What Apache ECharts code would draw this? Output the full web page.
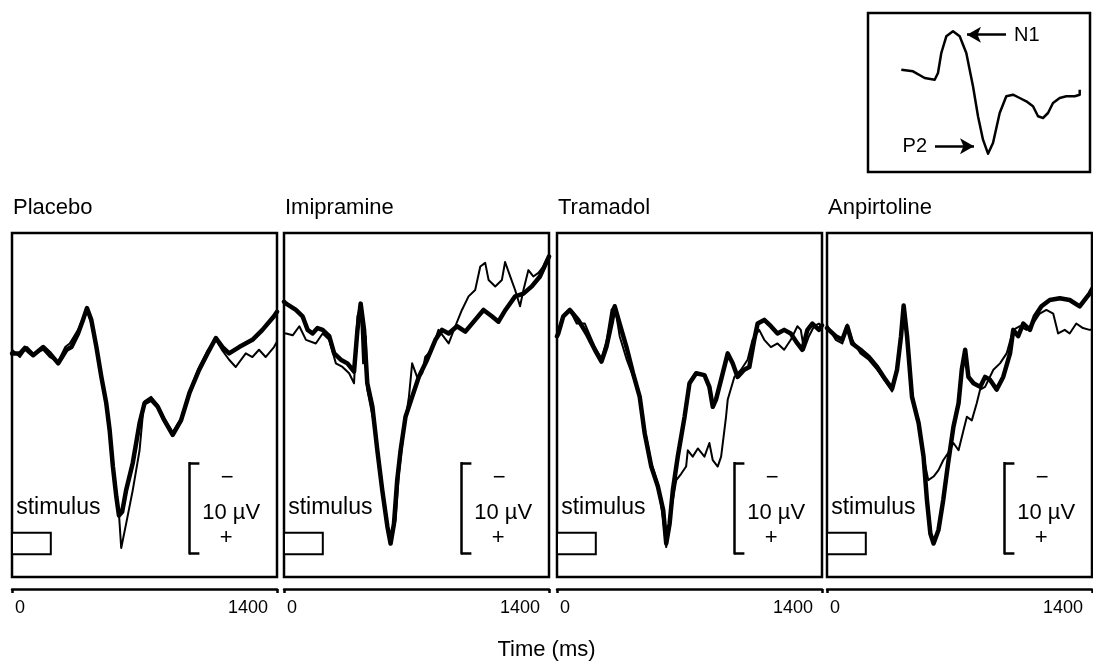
<!doctype html>
<html lang="en">
<head>
	<meta charset="UTF-8">
	<title>Auditory evoked potentials</title>
	<script src="https://cdn.jsdelivr.net/npm/echarts@6/dist/echarts.min.js"></script>
	<style>
		html, body { margin: 0; padding: 0; width: 100%; height: 100%; background: #fff; }
		#main { width: 1093px; height: 663px; }
	</style>
</head>
<body>
	<div id="main"></div>
	<script type="text/javascript">
		// time (ms), amplitude (µV, negative up)
		var placeboThick = [[0,-5.7],[7,-5.7],[42,-5.7],[68,-6.3],[112,-5.5],[165,-6.4],[200,-5.7],[244,-4.6],[288,-6.1],[314,-6.4],[349,-7.9],[375,-9.4],[396,-10.7],[419,-9.4],[446,-6.4],[472,-3.1],[498,-0.2],[516,2.8],[533,6.8],[551,10.1],[565,12.2],[582,11.8],[603,9.4],[638,6.4],[674,2.0],[700,-0.2],[735,-0.6],[770,0.2],[805,1.7],[849,3.3],[893,1.7],[937,-1.3],[989,-3.9],[1033,-5.7],[1077,-7.4],[1112,-6.4],[1147,-5.7],[1200,-6.4],[1270,-7.2],[1323,-8.3],[1384,-9.8],[1400,-10.3]];
		var placeboThin = [[0,-6.1],[7,-6.1],[42,-5.3],[79,-6.4],[112,-5.7],[165,-6.1],[200,-5.3],[244,-4.8],[281,-6.4],[305,-6.8],[349,-8.3],[375,-9.6],[396,-10.5],[419,-9.0],[446,-6.1],[472,-2.8],[498,0.2],[516,3.3],[533,7.2],[551,10.5],[565,12.0],[577,15.8],[603,13.1],[638,9.4],[674,5.0],[695,0.2],[700,-0.4],[735,-0.9],[770,0.0],[805,1.5],[849,3.0],[893,1.5],[937,-1.5],[989,-4.2],[1033,-6.0],[1077,-7.2],[1112,-6.0],[1147,-5.0],[1182,-4.2],[1235,-5.7],[1270,-5.3],[1305,-6.1],[1340,-5.3],[1384,-6.4],[1400,-7.0]];

		var imipramineThick = [[0,-11.4],[11,-11.2],[63,-10.5],[98,-9.8],[125,-8.3],[151,-7.9],[177,-8.5],[204,-8.3],[239,-7.6],[265,-5.7],[300,-5.0],[335,-4.6],[370,-3.7],[388,-8.3],[405,-11.2],[423,-8.3],[440,-2.4],[467,0.2],[493,5.0],[519,9.4],[546,13.4],[563,15.3],[581,13.1],[598,8.3],[616,5.0],[642,1.3],[677,-0.9],[712,-3.1],[756,-5.0],[800,-7.2],[835,-8.3],[870,-7.9],[914,-8.7],[958,-8.1],[1010,-9.4],[1054,-10.5],[1098,-9.8],[1133,-9.2],[1170,-10.5],[1221,-12.0],[1265,-12.3],[1309,-13.1],[1352,-14.2],[1400,-16.4]];
		var imipramineThin = [[0,-7.9],[11,-7.9],[46,-7.7],[81,-8.7],[116,-7.2],[168,-6.8],[204,-7.9],[239,-7.2],[274,-4.6],[309,-4.2],[344,-3.5],[370,-2.4],[388,-9.8],[405,-11.0],[418,-4.6],[432,-7.6],[440,-1.7],[475,2.0],[510,7.5],[546,13.1],[563,15.3],[590,12.7],[607,7.6],[633,2.8],[660,-0.9],[677,-4.6],[703,-3.1],[730,-3.5],[746,-5.3],[781,-6.1],[816,-8.3],[870,-6.8],[905,-8.7],[940,-10.5],[975,-12.0],[1010,-12.7],[1037,-15.3],[1063,-15.7],[1081,-13.8],[1116,-13.1],[1151,-13.8],[1168,-15.8],[1195,-14.2],[1221,-12.7],[1247,-10.9],[1265,-12.7],[1291,-14.9],[1317,-14.2],[1344,-14.6],[1370,-15.3],[1400,-16.6]];

		var tramadolThick = [[0,-7.6],[7,-7.9],[33,-9.8],[68,-10.5],[112,-9.4],[156,-7.9],[200,-6.1],[235,-4.8],[261,-6.4],[288,-9.0],[305,-10.9],[331,-9.0],[367,-6.4],[402,-3.5],[437,-0.9],[463,3.1],[498,6.8],[533,9.0],[561,11.6],[577,15.3],[595,13.1],[612,9.4],[638,5.7],[674,1.3],[700,-2.4],[735,-3.5],[779,-3.3],[805,-2.0],[823,0.2],[840,-0.6],[867,-2.8],[902,-5.7],[928,-4.6],[954,-3.1],[989,-3.9],[1016,-4.2],[1042,-7.2],[1060,-9.0],[1095,-9.4],[1130,-8.7],[1165,-7.9],[1200,-8.3],[1235,-7.9],[1270,-6.8],[1296,-6.1],[1323,-8.3],[1349,-9.0],[1384,-8.3],[1400,-8.8]];
		var tramadolThin = [[0,-8.0],[7,-8.3],[42,-10.1],[68,-10.5],[104,-9.0],[147,-9.0],[200,-6.4],[235,-5.1],[261,-7.0],[288,-10.5],[305,-11.0],[331,-7.6],[367,-5.1],[428,-1.7],[463,2.6],[498,6.4],[533,8.7],[561,12.7],[577,15.7],[603,11.6],[630,8.3],[656,7.6],[682,6.8],[691,5.0],[717,5.7],[744,4.8],[779,5.7],[805,4.2],[823,6.1],[849,6.8],[867,5.7],[893,1.3],[902,-0.6],[937,-3.1],[972,-3.9],[1007,-5.0],[1033,-7.2],[1068,-8.3],[1095,-7.2],[1130,-6.4],[1165,-6.8],[1200,-6.1],[1235,-7.2],[1270,-8.7],[1288,-8.3],[1305,-6.1],[1331,-7.6],[1358,-8.7],[1384,-9.0],[1400,-8.5]];

		var anpirtolineThick = [[0,-8.5],[5,-8.3],[46,-7.6],[81,-7.2],[107,-8.7],[133,-6.8],[177,-6.1],[221,-5.3],[265,-4.2],[309,-2.8],[344,-1.8],[370,-3.9],[391,-7.6],[405,-11.0],[423,-7.6],[449,-0.9],[484,2.0],[510,5.7],[528,10.5],[546,14.2],[563,15.3],[589,13.8],[614,10.5],[640,6.4],[668,2.4],[695,-0.2],[712,-3.9],[730,-6.1],[747,-3.1],[774,-2.4],[809,-2.0],[835,-3.1],[861,-2.8],[896,-1.7],[931,-3.1],[967,-5.7],[984,-8.3],[1010,-7.6],[1037,-9.0],[1072,-8.3],[1098,-9.8],[1133,-10.9],[1177,-11.6],[1230,-11.8],[1282,-11.6],[1335,-10.9],[1387,-12.3],[1400,-12.8]];
		var anpirtolineThin = [[0,-8.8],[5,-8.7],[46,-7.2],[81,-6.8],[107,-8.9],[133,-7.2],[177,-5.7],[221,-5.0],[265,-3.9],[309,-2.6],[344,-1.5],[370,-4.2],[391,-7.2],[405,-11.0],[423,-7.6],[449,-1.3],[484,2.0],[510,5.7],[535,8.3],[563,7.9],[589,7.2],[614,6.1],[640,5.3],[668,4.2],[695,5.0],[721,2.8],[739,1.3],[765,1.7],[791,-0.2],[809,-1.7],[835,-2.0],[879,-3.9],[914,-4.6],[949,-5.7],[984,-8.3],[1019,-8.7],[1054,-8.3],[1089,-9.0],[1124,-10.1],[1159,-10.5],[1195,-10.1],[1221,-7.9],[1256,-8.3],[1282,-7.9],[1317,-9.0],[1352,-8.5],[1387,-8.3],[1400,-8.3]];

		// inset: schematic waveform (arbitrary units, down = positive)
		var insetWave = [[33.3,56.7],[45,58.3],[56.7,65],[66.7,66.7],[70,60],[73.3,40],[78.3,23.3],[85,18.3],[91.7,23.3],[98.3,40],[105,73.3],[110,103.3],[115,126.7],[120,140.7],[125,130],[131.7,100],[138.3,83.3],[145,81.7],[151.7,85],[158.3,88.3],[165,93.3],[170,103.3],[175,105],[180,100],[185,90],[191.7,85],[198.3,83.3],[206.7,83.3],[211.7,81.7],[211.7,76.7]];

		var panelNames = ['Placebo', 'Imipramine', 'Tramadol', 'Anpirtoline'];
		var thickTraces = [placeboThick, imipramineThick, tramadolThick, anpirtolineThick];
		var thinTraces = [placeboThin, imipramineThin, tramadolThin, anpirtolineThin];
		var timeTicks = [0, 1400];
		var stimulusMs = [0, 205];
		var scaleBar = { x: 935, top: 6.4, size: 10 };

		var font = 'Liberation Sans, Arial, Helvetica, sans-serif';
		var panelLeft = [12, 284, 557, 827];
		var grids = [], xAxes = [], yAxes = [], series = [], titles = [];

		panelLeft.forEach(function (left, i) {
			grids.push({ left: left, top: 233, width: 265, height: 344, show: true, borderColor: '#000', borderWidth: 2.5, backgroundColor: 'transparent' });
			titles.push({ text: panelNames[i], left: left + 1, top: 197, padding: 0, textStyle: { fontFamily: font, fontSize: 22, fontWeight: 'normal', color: '#000' } });
			xAxes.push({
				gridIndex: i, type: 'value', min: timeTicks[0], max: timeTicks[1], interval: timeTicks[1] - timeTicks[0],
				position: 'bottom', offset: 12,
				axisLine: { show: true, onZero: false, lineStyle: { color: '#000', width: 2.5 } },
				axisTick: { show: true, inside: false, length: 4, lineStyle: { color: '#000', width: 2.5 } },
				splitLine: { show: false },
				axisLabel: {
					show: true, margin: 10, color: '#000', fontFamily: font, fontSize: 18,
					alignMinLabel: 'left', alignMaxLabel: 'right',
					formatter: function (v) { return v === timeTicks[0] ? '{a|' + v + '}' : '{b|' + v + '}'; },
					rich: { a: { fontFamily: font, fontSize: 18, color: '#000', padding: [0, 0, 0, 3] }, b: { fontFamily: font, fontSize: 18, color: '#000', padding: [0, 9, 0, 0] } }
				}
			});
			yAxes.push({ gridIndex: i, type: 'value', min: -19, max: 19, inverse: true, show: false, splitLine: { show: false } });

			var bx = scaleBar.x, bt = scaleBar.top, bb = scaleBar.top + scaleBar.size, bt2 = bx + 55;
			var lbl = function (coord, text, pos, size) {
				return { coord: coord, symbol: 'circle', symbolSize: 0, label: { show: true, position: pos || 'inside', distance: 0, formatter: text, color: '#000', fontFamily: font, fontSize: size || 22 } };
			};
			series.push({
				type: 'line', xAxisIndex: i, yAxisIndex: i, data: thickTraces[i], showSymbol: false, smooth: false,
				lineStyle: { color: '#000', width: 4.5, join: 'round', cap: 'round' }, z: 3
			});
			series.push({
				type: 'line', xAxisIndex: i, yAxisIndex: i, data: thinTraces[i], showSymbol: false, smooth: false,
				lineStyle: { color: '#000', width: 2, join: 'round' }, z: 4,
				markArea: {
					silent: true,
					itemStyle: { color: '#fff', borderColor: '#000', borderWidth: 2 },
					data: [[{ coord: [stimulusMs[0], 14.1] }, { coord: [stimulusMs[1], 16.5] }]]
				},
				markLine: {
					silent: true, symbol: 'none', animation: false,
					lineStyle: { color: '#000', width: 2.5, type: 'solid' },
					label: { show: false },
					data: [
						[{ coord: [bx, bt - 0.1] }, { coord: [bx, bb + 0.1] }],
						[{ coord: [bx, bt] }, { coord: [bt2, bt] }],
						[{ coord: [bx, bb] }, { coord: [bt2, bb] }]
					]
				},
				markPoint: {
					silent: true, animation: false,
					data: [
						lbl([22, 11.3], 'stimulus', 'right', 23),
						lbl([1137, 8.1], '−'),
						lbl([1158, 11.9], '10 µV'),
						lbl([1132, 14.7], '+')
					]
				}
			});
		});

		// inset
		grids.push({ left: 868, top: 13, width: 222, height: 159, show: true, borderColor: '#000', borderWidth: 2.5, backgroundColor: 'transparent' });
		xAxes.push({ gridIndex: 4, type: 'value', min: 0, max: 222, show: false, splitLine: { show: false } });
		yAxes.push({ gridIndex: 4, type: 'value', min: 0, max: 159, inverse: true, show: false, splitLine: { show: false } });
		series.push({
			type: 'line', xAxisIndex: 4, yAxisIndex: 4, data: insetWave, showSymbol: false,
			lineStyle: { color: '#000', width: 2.5, join: 'round' },
			markLine: {
				silent: true, animation: false, symbol: ['none', 'arrow'], symbolSize: [12, 14],
				lineStyle: { color: '#000', width: 2.5, type: 'solid' }, label: { show: false },
				data: [
					[{ coord: [138, 21.7] }, { coord: [99, 21.7] }],
					[{ coord: [67, 133.3] }, { coord: [106, 133.3] }]
				]
			},
			markPoint: {
				silent: true, animation: false,
				data: [
					{ coord: [146, 22.5], symbolSize: 0, label: { show: true, position: 'right', distance: 0, formatter: 'N1', color: '#000', fontFamily: font, fontSize: 20 } },
					{ coord: [59, 133.3], symbolSize: 0, label: { show: true, position: 'left', distance: 0, formatter: 'P2', color: '#000', fontFamily: font, fontSize: 20 } }
				]
			}
		});

		var myChart = echarts.init(document.getElementById('main'));
		var option = {
			animation: false,
			backgroundColor: '#fff',
			title: titles,
			grid: grids,
			xAxis: xAxes,
			yAxis: yAxes,
			series: series,
			graphic: [{
				type: 'text', left: 'center', top: 639,
				style: { text: 'Time (ms)', fill: '#000', font: '22px ' + font }
			}]
		};
		myChart.setOption(option);
		window.onresize = () => myChart.resize();
	</script>
</body>
</html>
